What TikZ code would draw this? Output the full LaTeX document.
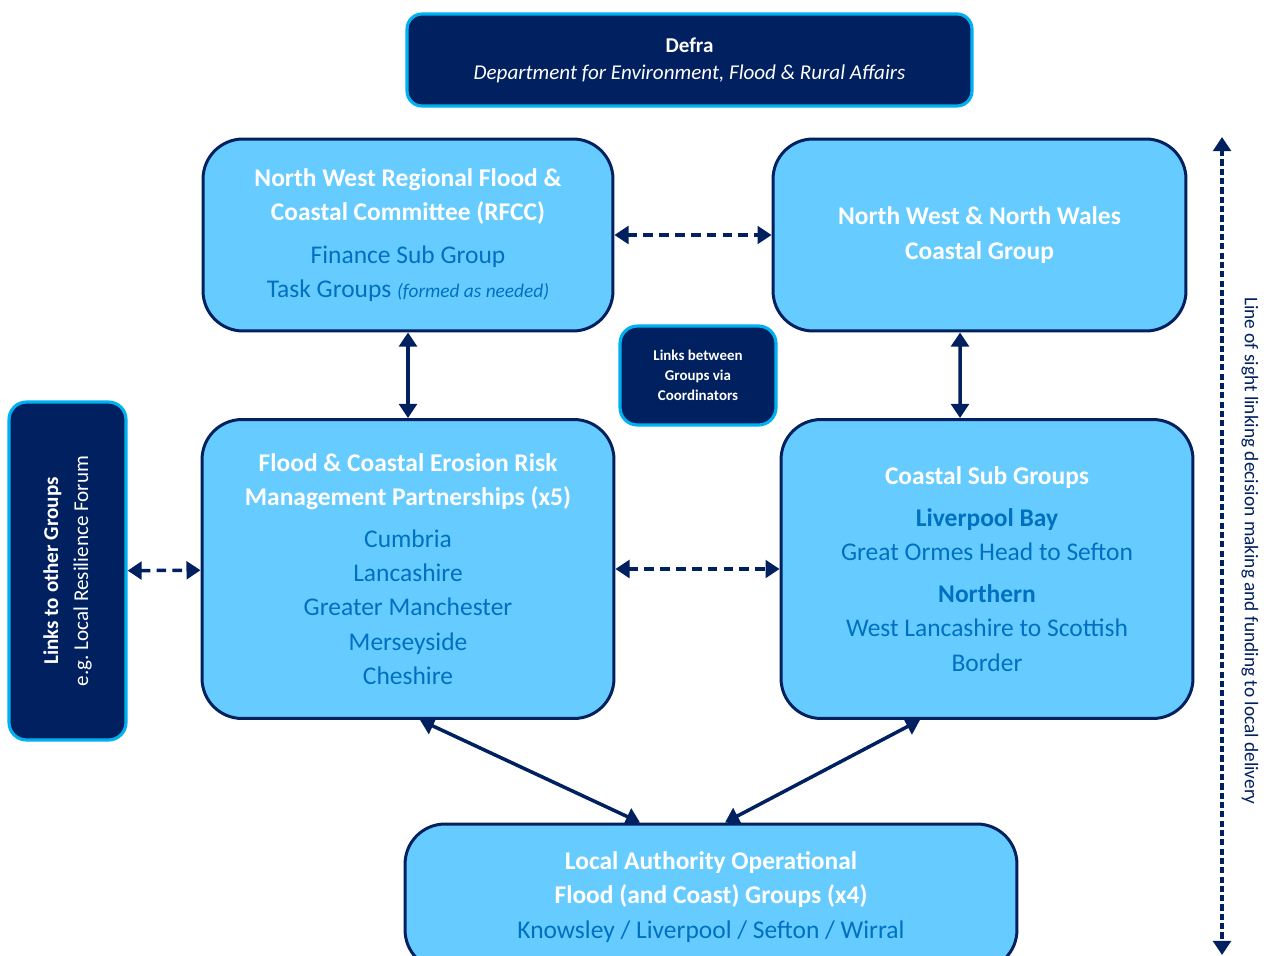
\documentclass[tikz,border=0pt]{standalone}
\usepackage{fontspec}
\setmainfont{Carlito}
\usetikzlibrary{arrows.meta}
\definecolor{navy}{RGB}{0,32,96}
\definecolor{edgecyan}{RGB}{0,176,240}
\definecolor{boxblue}{RGB}{102,204,255}
\definecolor{textblue}{RGB}{0,112,192}
\tikzset{
    darkbox/.style={draw=edgecyan, fill=navy, line width=1.8pt, text=white,
        align=center, rounded corners=0.35cm},
    lightbox/.style={draw=navy, fill=boxblue, line width=1.7pt, text=textblue,
        align=center, rounded corners=0.8cm,
        font=\fontsize{14.5}{19.5}\selectfont},
    link/.style={draw=navy, line width=2pt,
        {Triangle[length=8pt,width=10pt]}-{Triangle[length=8pt,width=10pt]}},
    dlink/.style={link, dash pattern=on 5.5pt off 3.5pt}
}
\newcommand{\hd}[1]{\textcolor{white}{\bfseries #1}}
\newcommand{\subhd}[1]{{\bfseries #1}}

\begin{document}
\begin{tikzpicture}[x=0.02cm, y=-0.02cm]
  \useasboundingbox (0,0) rectangle (1264,956);

  \node (defra) [darkbox, minimum width=11.3cm, minimum height=1.84cm,
    rounded corners=0.3cm, font=\fontsize{12}{15.5}\selectfont] at (689.5,60)
    {\bfseries Defra\\ \itshape Department for Environment, Flood \& Rural Affairs};

  \node (rfcc) [lightbox, minimum width=8.2cm, minimum height=3.84cm] at (408,235)
    {\hd{North West Regional Flood \&}\\ \hd{Coastal Committee (RFCC)}\\[0.16cm]
     Finance Sub Group\\ Task Groups {\itshape\fontsize{11}{13}\selectfont (formed as needed)}};
  \node (coast) [lightbox, minimum width=8.26cm, minimum height=3.84cm] at (979.5,235)
    {\hd{North West \& North Wales}\\ \hd{Coastal Group}};

  \node (coord) [darkbox, minimum width=3.12cm, minimum height=1.98cm,
    font=\bfseries\fontsize{8.5}{11.3}\selectfont] at (698,375.5)
    {Links between\\ Groups via\\ Coordinators};

  \node (fcerm) [lightbox, minimum width=8.24cm, minimum height=5.98cm] at (408,569)
    {\hd{Flood \& Coastal Erosion Risk}\\ \hd{Management Partnerships (x5)}\\[0.15cm]
     Cumbria\\ Lancashire\\ Greater Manchester\\ Merseyside\\ Cheshire};
  \node (subgrp) [lightbox, minimum width=8.24cm, minimum height=5.98cm] at (987,569)
    {\hd{Coastal Sub Groups}\\[0.16cm] \subhd{Liverpool Bay}\\ Great Ormes Head to Sefton\\[0.15cm]
     \subhd{Northern}\\ West Lancashire to Scottish\\ Border};

  \node (other) [darkbox, rotate=90, minimum width=6.76cm, minimum height=2.34cm,
    font=\fontsize{12}{17}\selectfont] at (67.5,571)
    {{\bfseries Links to other Groups}\\ e.g.\ Local Resilience Forum};

  \node (la) [lightbox, minimum width=12.24cm, minimum height=2.92cm] at (711,897)
    {\hd{Local Authority Operational}\\ \hd{Flood (and Coast) Groups (x4)}\\
     Knowsley / Liverpool / Sefton / Wirral};

  \coordinate (top) at (1222,137);
  \coordinate (bot) at (1222,955);
  \node (sight) [rotate=-90, text=navy, font=\fontsize{11}{12}\selectfont] at (1250,551)
    {Line of sight linking decision making and funding to local delivery};

  \draw[dlink] (rfcc) -- (coast);
  \draw[dlink] (fcerm) -- (subgrp);
  \draw[dlink] (other) -- (fcerm);
  \draw[link] (rfcc) -- (fcerm);
  \draw[link] ([xshift=-0.39cm]coast.south) -- ([xshift=-0.54cm]subgrp.north);
  \draw[link] ([xshift=0.24cm]fcerm.south) -- ([xshift=-1.42cm]la.north);
  \draw[link] ([xshift=-1.34cm]subgrp.south) -- ([xshift=0.28cm]la.north);
  \draw[link, line width=2pt, dash pattern=on 3.5pt off 1.8pt] (top) -- (bot);

\end{tikzpicture}
\end{document}
